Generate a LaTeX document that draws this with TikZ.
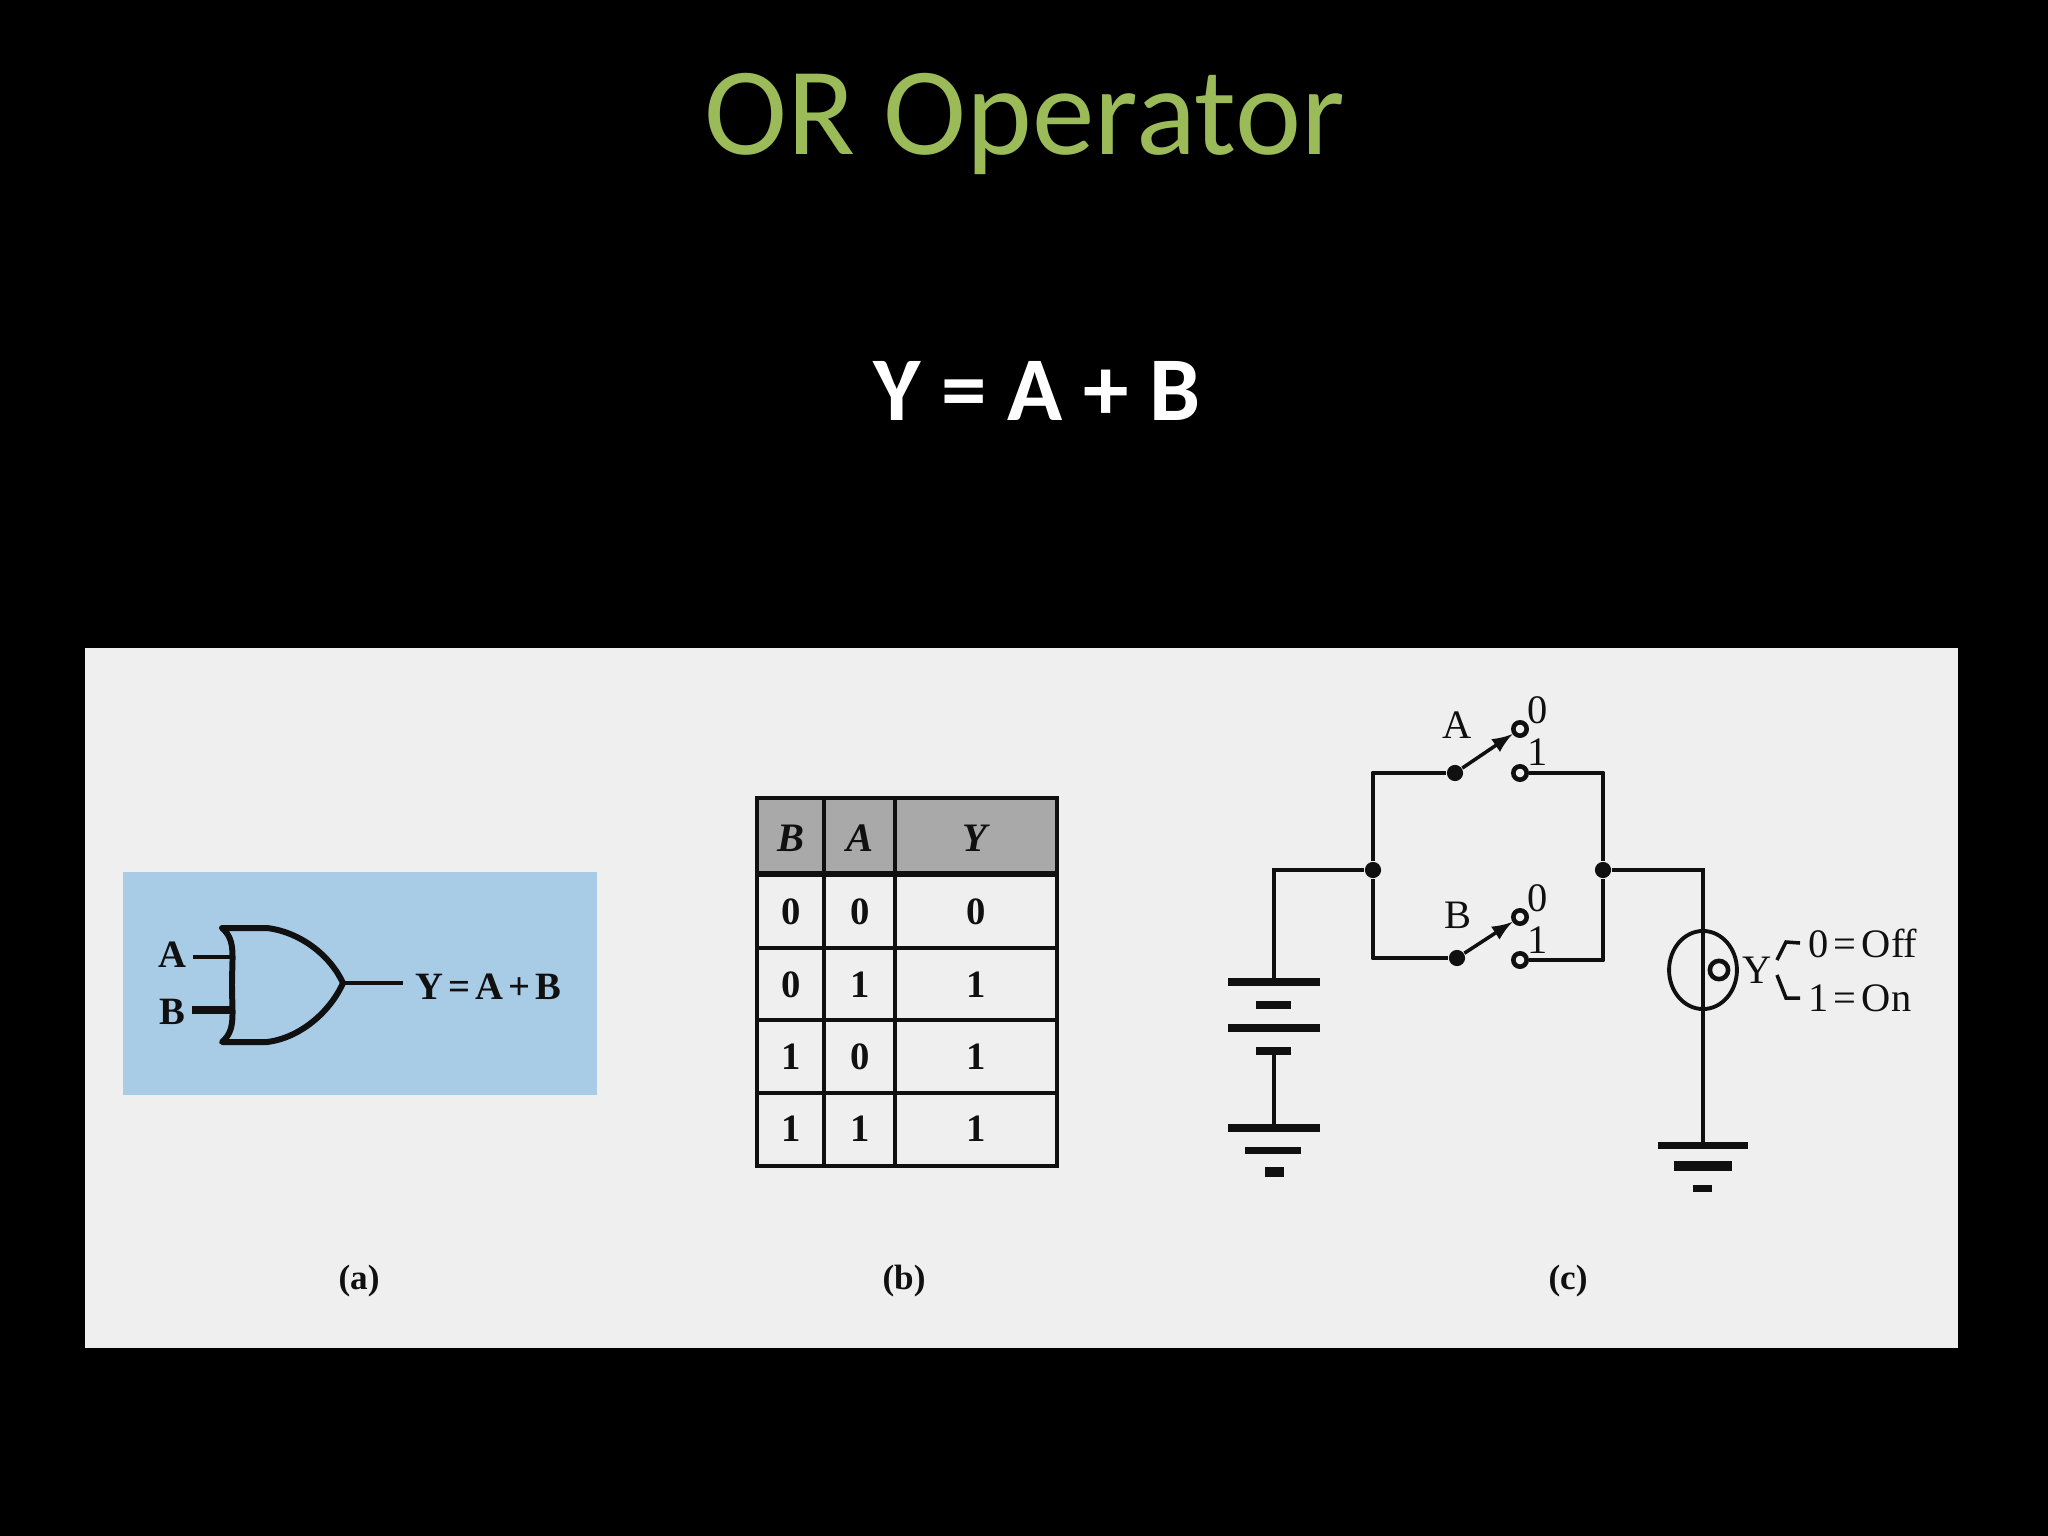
\documentclass[tikz,border=0pt]{standalone}
\usepackage{fontspec}
\setmainfont{Carlito}
\newfontfamily\figfont[WordSpace=0.5]{Liberation Serif}
\usepackage{tikz}
\usetikzlibrary{arrows, calc, positioning, shapes.geometric}
\definecolor{titlegreen}{HTML}{9BBB59}
\definecolor{panelgray}{HTML}{EFEFEF}
\definecolor{gateblue}{HTML}{A9CCE6}
\definecolor{headgray}{HTML}{A9A9A9}
\definecolor{ink}{HTML}{101010}
\tikzset{
	wire/.style={ink, line width=1.4pt, line join=round},
	thinwire/.style={ink, line width=1pt},
	tablerule/.style={ink, line width=1.1pt},
	plate/.style={ink, line width=2pt},
	figlabel/.style={ink, inner sep=0pt, font=\figfont\fontsize{11.5}{12}\selectfont},
	boldlabel/.style={ink, inner sep=0pt, font=\figfont\bfseries\fontsize{11}{12}\selectfont},
	figcaption/.style={ink, inner sep=0pt, font=\figfont\bfseries\fontsize{10}{12}\selectfont},
	dotnode/.style={circle, fill=ink, inner sep=0pt, minimum size=4.6pt},
	contact/.style={circle, draw=ink, line width=1.3pt, fill=panelgray, inner sep=0pt, minimum size=3.8pt}
}
\begin{document}
\begin{tikzpicture}[x=0.01cm,y=-0.01cm]
	\useasboundingbox (0,0) rectangle (2048,1536);
	\fill[black] (0,0) rectangle (2048,1536);
	\fill[panelgray] (85,648) rectangle (1958,1348);
	\node (title) [anchor=base, inner sep=0pt, text=titlegreen, font=\fontsize{35.6}{40}\selectfont] at (1025,154) {OR Operator};
	\node (expr) [anchor=base, inner sep=0pt, text=white, font=\bfseries\fontsize{25.9}{30}\selectfont] at (1037,420) {Y = A + B};

	\fill[gateblue] (123,872) rectangle (597,1095);
	\coordinate (gtop) at (222,928);
	\coordinate (gbot) at (222,1042);
	\coordinate (gtip) at (343,983);
	\coordinate (inA) at (232,957);
	\coordinate (inB) at (232,1010);
	\draw[wire, line width=1.7pt, line cap=round] (gtop) -- ++(45,0) .. controls (300,932) and (330,955) .. (gtip) .. controls (330,1012) and (300,1038) .. (267,1042) -- (gbot) .. controls (236,1030) and (232,1015) .. (232,985) .. controls (232,955) and (236,940) .. (gtop);
	\node (labA) [boldlabel] at (172,955) {A};
	\node (labB) [boldlabel] at (172,1012) {B};
	\node (labY) [boldlabel, anchor=west] at (415,987) {Y = A + B};
	\draw[thinwire] (labA.east) ++(6,2) -- (inA);
	\draw[wire, line width=2pt] (labB.east) ++(6,-2) -- (inB);
	\draw[wire] (gtip) -- ($(gtip -| labY.west)+(-12,0)$);

	\fill[headgray] (757,798) rectangle (1057,874);
	\draw[tablerule] (757,798) rectangle (1057,1166);
	\draw[tablerule, line width=1.8pt] (757,874) -- (1057,874);
	\foreach \ypos in {948,1020,1093} \draw[tablerule] (757,\ypos) -- (1057,\ypos);
	\foreach \xpos in {824,895} \draw[tablerule] (\xpos,798) -- (\xpos,1166);
	\foreach \xpos/\yname/\txt in {791/hB/B,860/hA/A,976/hY/Y}
		\node (\yname) [figlabel] at (\xpos,838) {\textit{\textbf{\txt}}};
	\foreach \ypos/\rown/\valb/\vala/\valy in {912/r1/0/0/0,985/r2/0/1/1,1057/r3/1/0/1,1129/r4/1/1/1}{
		\node (\rown b) [boldlabel] at (791,\ypos) {\valb};
		\node (\rown a) [boldlabel] at (860,\ypos) {\vala};
		\node (\rown y) [boldlabel] at (976,\ypos) {\valy};
	}

	\node (jL) [dotnode] at (1373,870) {};
	\node (jR) [dotnode] at (1603,870) {};
	\node (pivA) [dotnode] at (1455,773) {};
	\node (pivB) [dotnode] at (1457,958) {};
	\node (A0) [contact] at (1520,729) {};
	\node (A1) [contact] at (1520,773) {};
	\node (B0) [contact] at (1520,917) {};
	\node (B1) [contact] at (1520,960) {};
	\node (swA) [figlabel] at (1457,725) {A};
	\node (swB) [figlabel] at (1458,915) {B};
	\node (txtA0) [figlabel] at (1538,710) {0};
	\node (txtA1) [figlabel] at (1538,752) {1};
	\node (txtB0) [figlabel] at (1538,898) {0};
	\node (txtB1) [figlabel] at (1538,940) {1};
	\draw[wire] (pivA) -- (pivA -| jL) -- (jL) -- (jL |- pivB) -- (pivB);
	\draw[wire] (A1) -- (A1 -| jR) -- (jR) -- (jR |- B1) -- (B1);
	\draw[thinwire, -latex] (pivA) -- (A0);
	\draw[thinwire, -latex] (pivB) -- (B0);

	\coordinate (batTop) at (1274,982);
	\coordinate (batBot) at (1274,1051);
	\coordinate (gndL) at (1274,1128);
	\coordinate (gndR) at (1703,1145);
	\draw[thinwire] (jL) -- (jL -| batTop) -- (batTop);
	\draw[thinwire] (batBot) -- (gndL);
	\draw[plate] (batTop) ++(-46,0) -- ++(92,0);
	\draw[plate] (1256,1005) -- (1291,1005);
	\draw[plate] (1228,1028) -- (1320,1028);
	\draw[plate] (1256,1051) -- (1291,1051);
	\draw[plate] (gndL) ++(-46,0) -- ++(92,0);
	\draw[plate] (1245,1150) -- (1301,1150);
	\draw[plate, line width=2.6pt] (1265,1172) -- (1284,1172);

	\node (lamp) [ellipse, draw=ink, line width=1.1pt, minimum width=19.3pt, minimum height=22.2pt, inner sep=0pt] at (1703,970) {};
	\node (lampdot) [circle, draw=ink, line width=1.3pt, minimum size=5.2pt, inner sep=0pt] at (1719,970) {};
	\draw[thinwire] (jR) -- (jR -| gndR) -- (gndR);
	\draw[plate] (gndR) ++(-45,0) -- ++(90,0);
	\draw[plate, line width=2.6pt] (1674,1166) -- (1732,1166);
	\draw[plate] (1693,1188) -- (1712,1188);

	\node (lampY) [figlabel] at (1757,970) {Y};
	\node (off) [figlabel, anchor=west] at (1808,943) {0 = Off};
	\node (on) [figlabel, anchor=west] at (1808,998) {1 = On};
	\draw[thinwire] (1777,960) -- (1786,942) -- ($(off.west)+(-8,0)$);
	\draw[thinwire] (1777,975) -- (1786,998) -- ($(on.west)+(-8,0)$);

	\node (capa) [figcaption] at (359,1281) {(a)};
	\node (capb) [figcaption] at (904,1281) {(b)};
	\node (capc) [figcaption] at (1568,1281) {(c)};
\end{tikzpicture}
\end{document}
